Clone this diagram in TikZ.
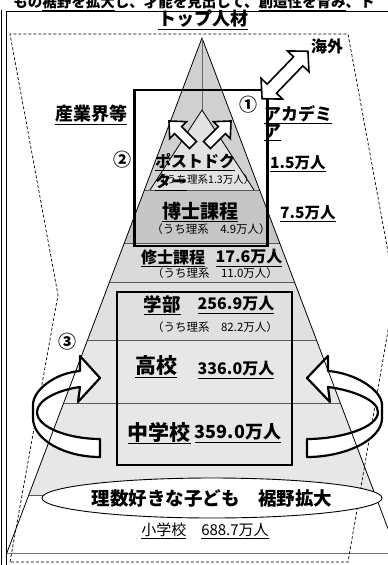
\documentclass[tikz,border=0pt]{standalone}
\usepackage{fontspec}
\setmainfont{Noto Sans CJK JP}
\usetikzlibrary{shapes.geometric}
\newcommand{\fsz}[1]{\fontsize{#1}{#1}\selectfont}
\definecolor{tierA}{HTML}{D0D0D0}
\definecolor{tierV}{HTML}{E2E2E2}
\definecolor{tierB}{HTML}{C6C6C6}
\definecolor{tierC}{HTML}{DADADA}
\definecolor{tierD}{HTML}{E0E0E0}
\definecolor{tierE}{HTML}{E7E7E7}
\tikzset{
  tierline/.style={draw=black!65,line width=0.8pt},
  edge/.style={draw=black,line width=0.8pt},
  bigbox/.style={draw=black,line width=2.2pt},
  dashline/.style={draw=black,line width=0.7pt,dash pattern=on 3pt off 2pt},
  blockarrow/.style={draw=black,line width=1.6pt,fill=white,line join=miter},
  ring/.style={draw=black,line width=2.2pt,fill=white,line join=round},
  lbl/.style={inner sep=0pt,font=\bfseries},
  sub/.style={inner sep=0pt,font=\fsz{11.5}}
}
\begin{document}
\begin{tikzpicture}[x=1pt,y=-1pt]
\useasboundingbox (0,0) rectangle (388,565);
% tiers
\fill[tierA] (202,38) -- (144.4,190) -- (259.6,190) -- cycle;
\fill[tierV] (202,110) -- (150,190) -- (254,190) -- cycle;
\fill[tierB] (144.4,190) -- (259.6,190) -- (279.7,243) -- (124.3,243) -- cycle;
\fill[tierC] (124.3,243) -- (279.7,243) -- (294.5,282) -- (109.5,282) -- cycle;
\fill[tierD] (109.5,282) -- (294.5,282) -- (316.5,340) -- (87.5,340) -- cycle;
\fill[tierE] (87.5,340) -- (316.5,340) -- (340.3,403) -- (63.7,403) -- cycle;
\fill[tierE] (63.7,403) -- (340.3,403) -- (375.2,495) -- (28.8,495) -- cycle;
% tier lines
\draw[tierline] (144.4,190) -- (259.6,190);
\draw[tierline] (124.3,243) -- (279.7,243);
\draw[tierline] (109.5,282) -- (294.5,282);
\draw[tierline] (87.5,340) -- (316.5,340);
\draw[tierline] (63.7,403) -- (340.3,403);
\draw[tierline] (28.8,495) -- (375.2,495);
\draw[draw=black!55,line width=1pt] (6,553) -- (388,553);
% frame
\draw[line width=1.6pt] (1.5,10) -- (1.5,565);
\draw[line width=0.9pt] (388,11) -- (6,11) -- (6,565);
% dashed trapezoid
\draw[dashline] (10,562) -- (58,295) -- (10,34) -- (348,34) -- (395,290) -- (348,562) -- cycle;
% rings
\draw[ring] (80,371) .. controls (55,373) and (33,390) .. (33,405) -- (33,418)
  .. controls (33,440) and (65,457) .. (100,457) -- (100,439)
  .. controls (70,439) and (37,428) .. (37,412)
  .. controls (37,400) and (58,390) .. (80,387) -- (78,402) -- (100,378) -- (80,356) -- cycle;
\draw[ring] (328,371) .. controls (355,373) and (382,390) .. (382,405) -- (382,418)
  .. controls (382,440) and (345,457) .. (307,457) -- (307,439)
  .. controls (340,439) and (378,428) .. (378,412)
  .. controls (378,400) and (352,390) .. (328,387) -- (330,402) -- (307,378) -- (328,356) -- cycle;
% pyramid edges
\draw[edge] (6.8,553) -- (202,38) -- (397.2,553);
\draw[draw=black!60,line width=0.7pt] (202,38) -- (202,110);
\draw[edge] (150,190) -- (202,110) -- (254,190);
% boxes
\node[bigbox,minimum width=133pt,minimum height=156pt,inner sep=0pt] (boxA) at (201,168) {};
\node[bigbox,minimum width=175pt,minimum height=173pt,inner sep=0pt] (boxB) at (204.5,378.5) {};
% block arrows
\begin{scope}[shift={(285,75)},rotate=46]
\draw[blockarrow] (-33,0) -- (-19,15) -- (-19,6.5) -- (19,6.5) -- (19,15) -- (33,0) -- (19,-15) -- (19,-6.5) -- (-19,-6.5) -- (-19,-15) -- cycle;
\end{scope}
\begin{scope}[shift={(181,133)},rotate=135]
\draw[blockarrow] (-17,-5) -- (4,-5) -- (4,-12) -- (17,0) -- (4,12) -- (4,5) -- (-17,5) -- cycle;
\end{scope}
\begin{scope}[shift={(219,133)},rotate=45]
\draw[blockarrow] (-17,-5) -- (4,-5) -- (4,-12) -- (17,0) -- (4,12) -- (4,5) -- (-17,5) -- cycle;
\end{scope}
% ellipse
\node[ellipse,draw=black,line width=0.9pt,fill=white,minimum width=272pt,minimum height=40pt,inner sep=0pt,font=\bfseries\fsz{18.5}] (base) at (212,498) {理数好きな子ども　裾野拡大};
% texts
\node[lbl,font=\bfseries\fsz{14.5}] (topline) at (194,3) {もの\underline{裾野を拡大}し、才能を見出して、\underline{創造性を育み}、ト};
\node[lbl,font=\bfseries\fsz{18}] (top) at (203,20) {\underline{トップ人材}};
\node[lbl,font=\bfseries\fsz{16}] (kaigai) at (327,46) {海外};
\node[lbl,font=\bfseries\fsz{18}] (sangyo) at (91,115) {\underline{産業界等}};
\node[lbl,font=\bfseries\fsz{18}] (n1) at (248,105) {①};
\node[lbl,font=\bfseries\fsz{17},anchor=west] (acad1) at (264,115) {\underline{アカデミ}};
\node[lbl,font=\bfseries\fsz{17},anchor=west] (acad2) at (264,133) {\underline{ア}};
\node[lbl,font=\bfseries\fsz{18}] (n2) at (122,160) {②};
\node[sub,font=\fsz{10.5}] (pdsub) at (205,180) {（うち理系1.3万人）};
\node[lbl,font=\bfseries\fsz{16},anchor=west] (pd1) at (155,162) {\underline{ポストドク}};
\node[lbl,font=\bfseries\fsz{16},anchor=west] (pd2) at (155,182) {\underline{ター}};
\node[lbl,font=\bfseries\fsz{15.5},anchor=west] (pdnum) at (270,164) {\underline{1.5万人}};
\node[lbl,font=\bfseries\fsz{19}] (dr) at (200,212) {\underline{博士課程}};
\node[sub] (drsub) at (211,229) {（うち理系　4.9万人）};
\node[lbl,font=\bfseries\fsz{15.5},anchor=west] (drnum) at (280,214) {\underline{7.5万人}};
\node[lbl,font=\bfseries\fsz{16}] (ms) at (173,258) {\underline{修士課程}};
\node[lbl,font=\bfseries\fsz{16}] (msnum) at (249,258) {\underline{17.6万人}};
\node[sub] (mssub) at (215,273) {（うち理系　11.0万人）};
\node[lbl,font=\bfseries\fsz{18.5}] (ug) at (162,305) {\underline{学部}};
\node[lbl,font=\bfseries\fsz{16}] (ugnum) at (236,305) {\underline{256.9万人}};
\node[sub] (ugsub) at (215,327) {（うち理系　82.2万人）};
\node[lbl,font=\bfseries\fsz{18}] (n3) at (67,342) {③};
\node[lbl,font=\bfseries\fsz{21}] (hs) at (156,367) {\underline{高校}};
\node[lbl,font=\bfseries\fsz{16}] (hsnum) at (236,370) {\underline{336.0万人}};
\node[lbl,font=\bfseries\fsz{21}] (jh) at (159,433) {\underline{中学校}};
\node[lbl,font=\bfseries\fsz{18}] (jhnum) at (238,433) {\underline{359.0万人}};
\node[sub,font=\fsz{15}] (el) at (205,531) {\underline{小学校}　\underline{688.7万人}};
\end{tikzpicture}
\end{document}
